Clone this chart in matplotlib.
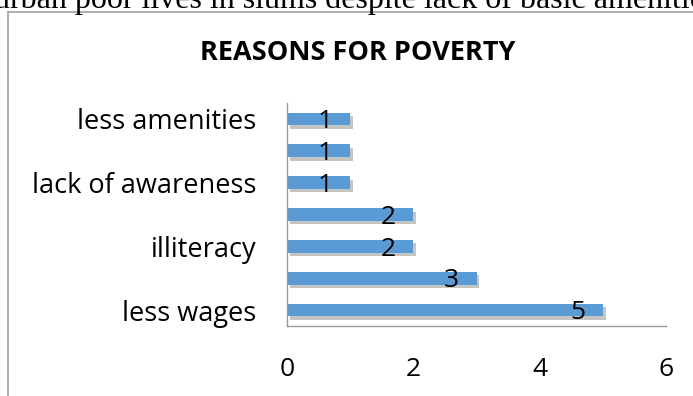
import matplotlib

matplotlib.use("Agg")
import matplotlib.pyplot as plt
import matplotlib.patheffects as pe
from matplotlib.lines import Line2D

# bottom-to-top order, as drawn by the spreadsheet
categories = ["less wages", "", "illiteracy", "", "lack of awareness", "", "less amenities"]
counts = [5, 3, 2, 2, 1, 1, 1]
x_ticks = [0, 2, 4, 6]

W, H = 693, 396
fig = plt.figure(figsize=(W / 100, H / 100), dpi=100)
fig.patch.set_facecolor("white")

font = "Open Sans"

# clipped line of body text above the chart
fig.text(-6 / W, 1 - 8 / H, "urban poor lives in slums despite lack of basic amenities",
         family="Liberation Serif", fontsize=23, ha="left", va="baseline")

# chart frame (left and top edges visible)
fig.add_artist(Line2D([8 / W, 8 / W], [0, 1 - 12 / H], transform=fig.transFigure,
                      color="#a0a0a0", linewidth=1.2))
fig.add_artist(Line2D([8 / W, 1], [1 - 12 / H, 1 - 12 / H], transform=fig.transFigure,
                      color="#a0a0a0", linewidth=1.2))

ax = fig.add_axes([287 / W, 1 - 326 / H, (666 - 287) / W, (326 - 103) / H])
y = list(range(len(categories)))
bars = ax.barh(y, counts, height=0.4, color="#5b9bd5", edgecolor="none")
for b in bars:
    b.set_path_effects([pe.SimplePatchShadow(offset=(2, -2.5), shadow_rgbFace="#707070", alpha=0.4),
                        pe.Normal()])

for yi, v in zip(y, counts):
    ax.annotate(str(v), (v, yi), xytext=(-18, -2), textcoords="offset points",
                ha="center", va="center", fontsize=19, family=font, color="black")

ax.set_xlim(0, 6)
ax.set_ylim(-0.5, len(categories) - 0.5)
ax.set_xticks(x_ticks)
ax.set_xticklabels([str(t) for t in x_ticks], fontsize=19, family=font)
ax.set_yticks(y)
ax.set_yticklabels(categories, fontsize=19.5, family=font)
ax.tick_params(length=0)
ax.tick_params(axis="x", pad=22.5)
ax.tick_params(axis="y", pad=22)
for side in ("top", "right"):
    ax.spines[side].set_visible(False)
for side in ("left", "bottom"):
    ax.spines[side].set_color("#999999")
    ax.spines[side].set_linewidth(1.0)

fig.text(358 / W, 1 - 53 / H, "REASONS FOR POVERTY", family=font, fontweight="bold",
         fontsize=19.5, ha="center", va="center")

fig.savefig("out.png", dpi=100)
